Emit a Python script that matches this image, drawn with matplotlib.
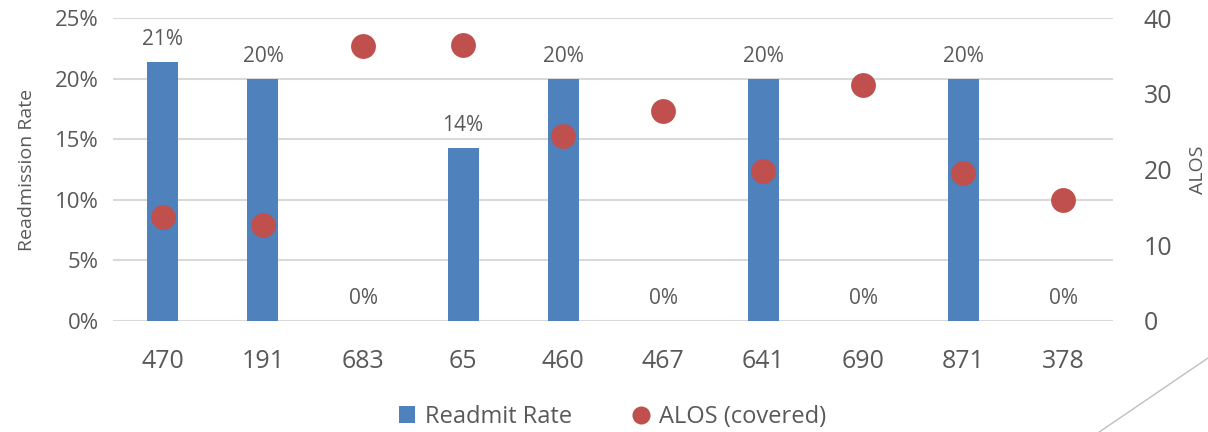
import numpy as np
import matplotlib.pyplot as plt
from matplotlib.lines import Line2D
from matplotlib.patches import Patch
from matplotlib.ticker import FuncFormatter

plt.rcParams['font.family'] = ['Open Sans', 'DejaVu Sans']

# readmission rate and average length of stay per provider
providers = ['470', '191', '683', '65', '460', '467', '641', '690', '871', '378']
readmit_rate = [0.214, 0.20, 0.0, 0.143, 0.20, 0.0, 0.20, 0.0, 0.20, 0.0]
alos_covered = [13.7, 12.7, 36.3, 36.4, 24.4, 27.7, 19.8, 31.2, 19.5, 16.0]

text_color = '#595959'
bar_color = '#4F81BD'
dot_color = '#C0504D'

fig = plt.figure(figsize=(12.08, 4.32), dpi=100)
ax = fig.add_axes([0.0935, 0.257, 0.828, 0.701])
ax2 = ax.twinx()

x = np.arange(len(providers))
ax.bar(x, readmit_rate, width=0.31, color=bar_color, zorder=2)
for xi, v in zip(x, readmit_rate):
    ax.text(xi, v + 0.0095, f'{v:.0%}', ha='center', va='bottom',
            fontsize=15, color=text_color)

ax2.scatter(x, alos_covered, s=320, color=dot_color, zorder=3, linewidths=0)

ax.set_xlim(-0.5, len(providers) - 0.5)
ax.set_ylim(0, 0.25)
ax.set_yticks(np.arange(0, 0.26, 0.05))
ax.yaxis.set_major_formatter(FuncFormatter(lambda v, _: f'{v:.0%}'))
ax2.set_ylim(0, 40)
ax2.set_yticks(range(0, 41, 10))

ax.set_xticks(x)
ax.set_xticklabels(providers)
ax.grid(axis='y', color='#d9d9d9', linewidth=1.5, zorder=0)
ax.set_axisbelow(True)

for a in (ax, ax2):
    for s in a.spines.values():
        s.set_visible(False)
    a.tick_params(length=0, colors=text_color)
ax.tick_params(axis='x', labelsize=18, pad=20)
ax.tick_params(axis='y', labelsize=16, pad=10)
ax2.tick_params(axis='y', labelsize=18, pad=22)

ax.set_ylabel('Readmission Rate', fontsize=14, color=text_color, labelpad=14)
ax2.set_ylabel('ALOS', fontsize=14, color=text_color, labelpad=12)

handles = [
    Patch(facecolor=bar_color, label='Readmit Rate'),
    Line2D([], [], marker='o', linestyle='none', markersize=13,
           markerfacecolor=dot_color, markeredgewidth=0, label='ALOS (covered)'),
]
fig.legend(handles=handles, loc='center', bbox_to_anchor=(0.507, 0.035),
           ncol=2, frameon=False, fontsize=17, labelcolor=text_color,
           handlelength=0.7, handletextpad=0.4, columnspacing=2.6)

# slide corner accent
fig.add_artist(Line2D([1.0, 0.91], [1 - 358 / 432, 0.0], transform=fig.transFigure,
                      color='#bfbfbf', linewidth=1))

fig.savefig('out.png', dpi=100)
